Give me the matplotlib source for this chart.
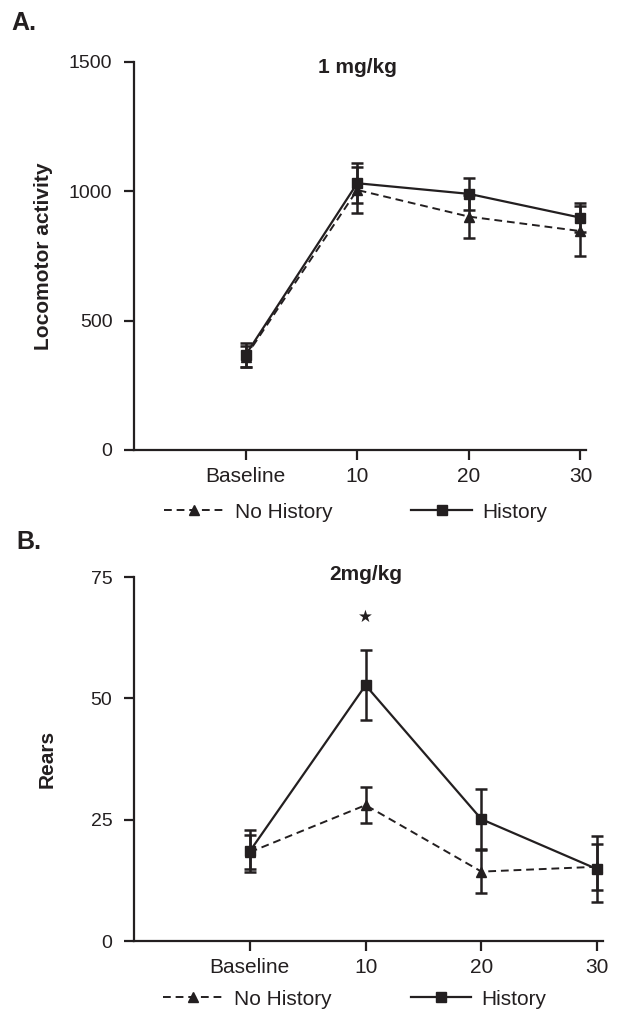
import matplotlib
matplotlib.use("Agg")
import matplotlib.pyplot as plt
from matplotlib.lines import Line2D
import numpy as np

plt.rcParams["font.family"] = ["Liberation Sans", "DejaVu Sans"]

INK = "#231f20"

# ---- data ----
time_labels = ["Baseline", "10", "20", "30"]

# panel A: locomotor activity, 1 mg/kg
loco_no_hist = [360, 1005, 902, 846]
loco_no_hist_err = [40, 88, 84, 96]
loco_hist = [367, 1031, 990, 898]
loco_hist_err = [46, 77, 62, 56]

# panel B: rears, 2 mg/kg
rears_no_hist = [18.3, 28.0, 14.3, 15.3]
rears_no_hist_err = [3.5, 3.7, 4.5, 4.7]
rears_hist = [18.5, 52.7, 25.1, 14.8]
rears_hist_err = [4.3, 7.2, 6.2, 6.8]

DASH = (0, (4, 2.5))


def draw_panel(ax, no_hist, no_hist_err, hist, hist_err, ymax, yticks,
               ylabel, title, title_y, legend_x, label_x):
    x = np.arange(len(time_labels))
    ax.errorbar(x, no_hist, yerr=no_hist_err, color=INK, linestyle=DASH,
                linewidth=1.4, marker="^", markersize=6.5, capsize=4.5,
                elinewidth=1.8, capthick=1.8)
    ax.errorbar(x, hist, yerr=hist_err, color=INK, linestyle="-",
                linewidth=1.6, marker="s", markersize=7.5, capsize=4.5,
                elinewidth=1.8, capthick=1.8)

    ax.set_xlim(-1, 3.05)
    ax.set_ylim(0, ymax)
    ax.set_xticks(x)
    ax.set_xticklabels(time_labels, fontsize=15, color=INK)
    ax.set_yticks(yticks)
    ax.set_yticklabels([str(t) for t in yticks], fontsize=14, color=INK)
    for side in ["top", "right"]:
        ax.spines[side].set_visible(False)
    for side in ["left", "bottom"]:
        ax.spines[side].set_linewidth(1.6)
        ax.spines[side].set_color(INK)
    ax.tick_params(axis="y", length=7.5, width=1.6, color=INK, pad=8)
    ax.tick_params(axis="x", length=7.5, width=1.6, color=INK, pad=5)

    ax.set_ylabel(ylabel, fontsize=15, fontweight="bold", color=INK)
    ax.yaxis.set_label_coords(label_x, 0.5)
    ax.text(1.0, title_y, title, ha="center", va="center", fontsize=15,
            fontweight="bold", color=INK)

    handles = [
        Line2D([], [], color=INK, linestyle=DASH, linewidth=1.4, marker="^",
               markersize=6.5),
        Line2D([], [], color=INK, linestyle="-", linewidth=1.6, marker="s",
               markersize=7.5),
    ]
    ax.legend(handles, ["No History", "History"], loc="center",
              bbox_to_anchor=(legend_x, -0.16), ncol=2, frameon=False,
              fontsize=15, handlelength=2.9, handletextpad=0.5,
              columnspacing=3.8, labelcolor=INK)


fig = plt.figure(figsize=(6.21, 10.15), dpi=100)
ax_a = fig.add_axes([0.2158, 0.5567, 0.7279, 0.3823])
ax_b = fig.add_axes([0.2158, 0.0729, 0.7552, 0.3586])

draw_panel(ax_a, loco_no_hist, loco_no_hist_err, loco_hist, loco_hist_err,
           1500, [0, 500, 1000, 1500], "Locomotor activity", "1 mg/kg",
           1477, 0.49, -0.179)
draw_panel(ax_b, rears_no_hist, rears_no_hist_err, rears_hist, rears_hist_err,
           75, [0, 25, 50, 75], "Rears", "2mg/kg", 75.5, 0.471, -0.164)

# significance marker
ax_b.text(1.0, 66.8, "\u2605", ha="center", va="center", fontsize=12,
          color=INK, family=["DejaVu Sans"])

fig.text(0.019, 0.977, "A.", fontsize=18, fontweight="bold", color=INK,
         ha="left", va="center")
fig.text(0.027, 0.466, "B.", fontsize=18, fontweight="bold", color=INK,
         ha="left", va="center")

plt.savefig("out.png", dpi=100)
plt.close()
